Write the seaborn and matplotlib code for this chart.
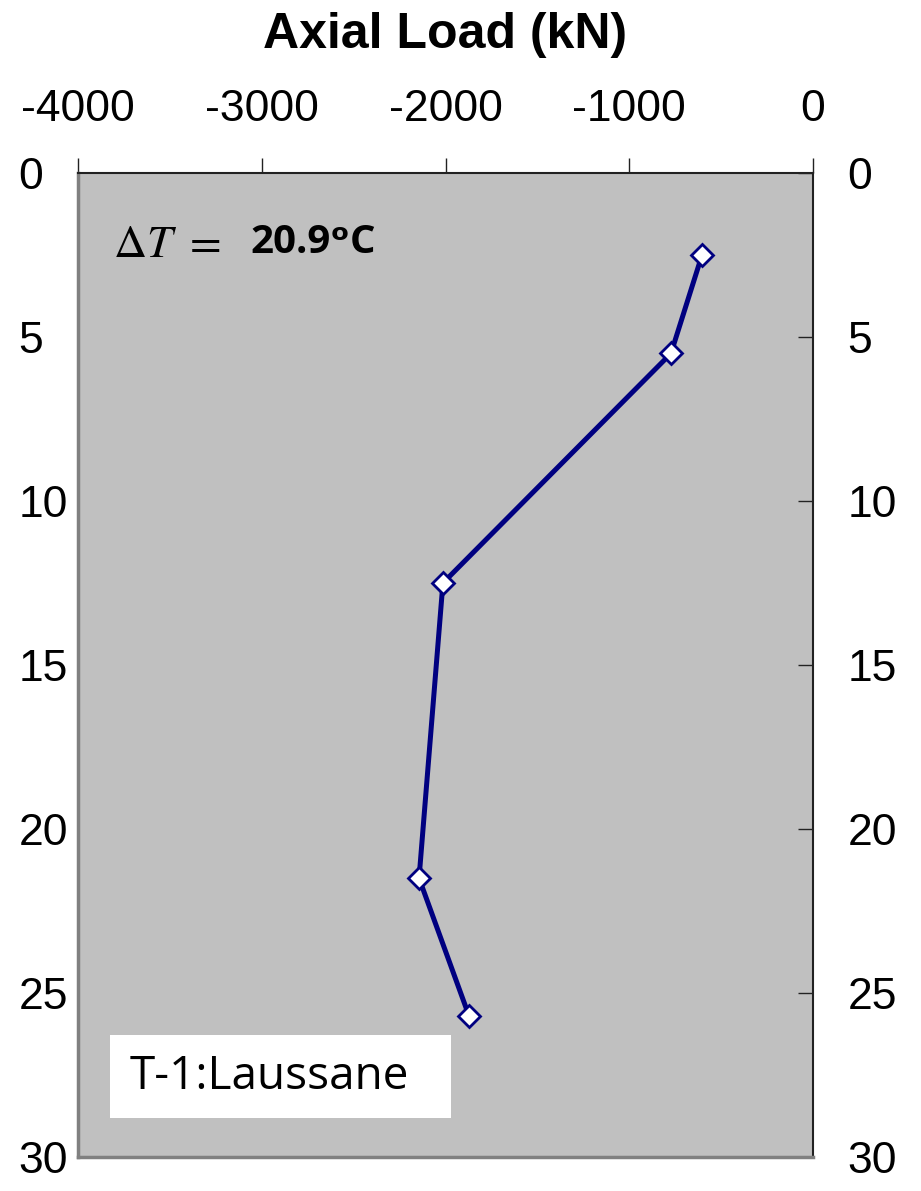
import matplotlib
matplotlib.use("Agg")
import matplotlib.pyplot as plt
import matplotlib.transforms as mtrans
import seaborn as sns
import pandas as pd
from matplotlib.patches import Rectangle

# Data
axial_load = [-604, -773, -2014, -2144, -1872]   # kN
depth = [2.5, 5.5, 12.5, 21.5, 25.7]             # m
x_ticks = [-4000, -3000, -2000, -1000, 0]
y_ticks = [0, 5, 10, 15, 20, 25, 30]
title = "Axial Load (kN)"
delta_t = "20.9"
label = "T-1:Laussane"

sns.set_theme(style="white")
plt.rcParams["font.family"] = ["Liberation Sans", "DejaVu Sans"]
plt.rcParams["mathtext.fontset"] = "stix"
plt.rcParams["axes.unicode_minus"] = False
plt.rcParams["text.color"] = "black"
plt.rcParams["xtick.labelcolor"] = "black"
plt.rcParams["ytick.labelcolor"] = "black"

fig = plt.figure(figsize=(9.21, 11.91), dpi=100)
ax = fig.add_axes([78/921, 1 - 1157/1191, (813-78)/921, (1157-173)/1191])
ax.set_facecolor("#C0C0C0")

df = pd.DataFrame({"load": axial_load, "depth": depth})
sns.lineplot(data=df, x="load", y="depth", sort=False, ax=ax, color="#000080",
             linewidth=3.6, marker="D", markersize=11, markerfacecolor="white",
             markeredgecolor="#000080", markeredgewidth=2.0)

ax.set_xlim(-4000, 0)
ax.set_ylim(30, 0)
ax.set_xticks(x_ticks)
ax.set_yticks(y_ticks)
ax.set_xlabel("")
ax.set_ylabel("")

ax.xaxis.tick_top()
ax.tick_params(axis="x", which="both", top=True, bottom=False, labeltop=True, labelbottom=False,
               direction="out", length=11, width=1, color="#222222", pad=20, labelsize=32,
               labelcolor="black")
ax.tick_params(axis="y", which="both", left=False, right=True, labelleft=True, labelright=True,
               direction="in", length=11, width=1, color="#222222", labelsize=32, pad=43,
               labelcolor="black")
for tick in ax.yaxis.get_major_ticks():
    tick.label1.set_horizontalalignment("left")
    tick.label2.set_horizontalalignment("left")
fig.canvas.draw()
for tick in ax.yaxis.get_major_ticks():
    tick.label2.set_transform(tick.label2.get_transform() +
                              mtrans.ScaledTranslation(-18/72, 0, fig.dpi_scale_trans))

for s in ["top", "right"]:
    ax.spines[s].set_color("#222222")
    ax.spines[s].set_linewidth(1.5)
for s in ["left", "bottom"]:
    ax.spines[s].set_color("#808080")
    ax.spines[s].set_linewidth(2.5)

fig.text(445/921, 1 - 35/1191, title, ha="center", va="center", fontsize=36,
         fontweight="bold", color="black")

ax.text(0.048, 0.927, r"$\Delta T\ =$", transform=ax.transAxes, ha="left", va="center",
        fontsize=33, color="black")
ax.text(0.234, 0.929, delta_t + "ᵒC", transform=ax.transAxes, ha="left", va="center",
        fontsize=29, fontweight="bold", family=["Open Sans", "DejaVu Sans"], color="black")

ax.add_patch(Rectangle((32/735, 39/984), 341/735, 83/984, transform=ax.transAxes,
                       facecolor="white", edgecolor="none", zorder=3))
ax.text(52/735, 80/984, label, transform=ax.transAxes, ha="left", va="center",
        fontsize=33, family=["Open Sans", "DejaVu Sans"], color="black", zorder=4)

fig.savefig("out.png", dpi=100)
